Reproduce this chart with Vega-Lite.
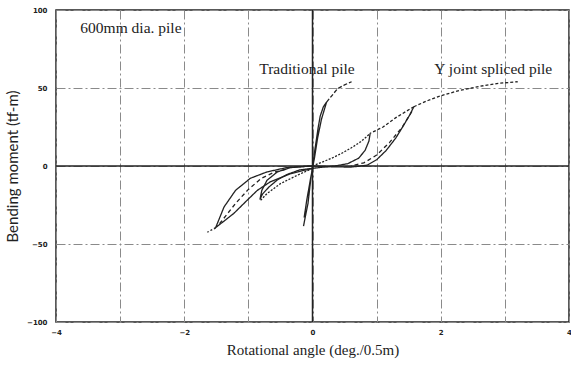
{
  "$schema": "https://vega.github.io/schema/vega-lite/v6.json",
  "width": 513,
  "height": 312,
  "autosize": {"type": "none"},
  "padding": {"left": 56, "top": 10, "right": 2, "bottom": 45},
  "background": "white",
  "config": {
    "view": {"stroke": "#222", "strokeWidth": 1.5},
    "axis": {"labelColor": "#222", "titleColor": "#222"}
  },
  "datasets": {
    "curves": [
      {"s": "Traditional", "i": 0, "x": -0.14, "y": -38.5},
      {"s": "Traditional", "i": 1, "x": -0.1, "y": -30},
      {"s": "Traditional", "i": 2, "x": -0.07, "y": -24},
      {"s": "Traditional", "i": 3, "x": -0.04, "y": -13},
      {"s": "Traditional", "i": 4, "x": 0, "y": 0},
      {"s": "Traditional", "i": 5, "x": 0.05, "y": 14},
      {"s": "Traditional", "i": 6, "x": 0.09, "y": 25},
      {"s": "Traditional", "i": 7, "x": 0.12, "y": 32},
      {"s": "Traditional", "i": 8, "x": 0.17, "y": 38},
      {"s": "Traditional", "i": 9, "x": 0.22, "y": 41},
      {"s": "Traditional", "i": 10, "x": 0.14, "y": 30},
      {"s": "Traditional", "i": 11, "x": 0.08, "y": 18},
      {"s": "Traditional", "i": 12, "x": 0.03, "y": 5},
      {"s": "Traditional", "i": 13, "x": -0.03, "y": -8},
      {"s": "Traditional", "i": 14, "x": -0.09, "y": -22},
      {"s": "Traditional", "i": 15, "x": -0.13, "y": -33},
      {"s": "Traditional top", "i": 0, "x": 0.22, "y": 41},
      {"s": "Traditional top", "i": 1, "x": 0.3, "y": 45},
      {"s": "Traditional top", "i": 2, "x": 0.39, "y": 49.5},
      {"s": "Traditional top", "i": 3, "x": 0.5, "y": 52},
      {"s": "Traditional top", "i": 4, "x": 0.61, "y": 54},
      {"s": "Y small loop", "i": 0, "x": 0.9, "y": 21},
      {"s": "Y small loop", "i": 1, "x": 0.88, "y": 16},
      {"s": "Y small loop", "i": 2, "x": 0.82, "y": 10},
      {"s": "Y small loop", "i": 3, "x": 0.72, "y": 5},
      {"s": "Y small loop", "i": 4, "x": 0.55, "y": 1.5},
      {"s": "Y small loop", "i": 5, "x": 0.35, "y": 0},
      {"s": "Y small loop", "i": 6, "x": 0.15, "y": -0.8},
      {"s": "Y small loop", "i": 7, "x": 0, "y": -1.5},
      {"s": "Y small loop", "i": 8, "x": -0.2, "y": -2.5},
      {"s": "Y small loop", "i": 9, "x": -0.4, "y": -5.5},
      {"s": "Y small loop", "i": 10, "x": -0.55, "y": -9},
      {"s": "Y small loop", "i": 11, "x": -0.68, "y": -13.5},
      {"s": "Y small loop", "i": 12, "x": -0.78, "y": -18},
      {"s": "Y small loop", "i": 13, "x": -0.82, "y": -21.5},
      {"s": "Y small loop", "i": 14, "x": -0.79, "y": -15.6},
      {"s": "Y small loop", "i": 15, "x": -0.71, "y": -9.2},
      {"s": "Y small loop", "i": 16, "x": -0.55, "y": -3.8},
      {"s": "Y small loop", "i": 17, "x": -0.34, "y": -1},
      {"s": "Y small loop", "i": 18, "x": -0.1, "y": -0.2},
      {"s": "Y small loop", "i": 19, "x": 0, "y": 0},
      {"s": "Y small path +", "i": 0, "x": 0, "y": 0},
      {"s": "Y small path +", "i": 1, "x": 0.15, "y": 2.5},
      {"s": "Y small path +", "i": 2, "x": 0.3, "y": 5},
      {"s": "Y small path +", "i": 3, "x": 0.45, "y": 8},
      {"s": "Y small path +", "i": 4, "x": 0.6, "y": 11.5},
      {"s": "Y small path +", "i": 5, "x": 0.75, "y": 15.5},
      {"s": "Y small path +", "i": 6, "x": 0.85, "y": 19},
      {"s": "Y small path +", "i": 7, "x": 0.9, "y": 21},
      {"s": "Y small path -", "i": 0, "x": 0, "y": -1.5},
      {"s": "Y small path -", "i": 1, "x": -0.24, "y": -6},
      {"s": "Y small path -", "i": 2, "x": -0.5, "y": -11.3},
      {"s": "Y small path -", "i": 3, "x": -0.71, "y": -17.7},
      {"s": "Y small path -", "i": 4, "x": -0.81, "y": -22},
      {"s": "Y large loop", "i": 0, "x": 0, "y": -1.5},
      {"s": "Y large loop", "i": 1, "x": -0.34, "y": -4.9},
      {"s": "Y large loop", "i": 2, "x": -0.66, "y": -10.2},
      {"s": "Y large loop", "i": 3, "x": -0.86, "y": -15.6},
      {"s": "Y large loop", "i": 4, "x": -1.02, "y": -22},
      {"s": "Y large loop", "i": 5, "x": -1.23, "y": -30.5},
      {"s": "Y large loop", "i": 6, "x": -1.51, "y": -39.5},
      {"s": "Y large loop", "i": 7, "x": -1.38, "y": -26.3},
      {"s": "Y large loop", "i": 8, "x": -1.2, "y": -15.6},
      {"s": "Y large loop", "i": 9, "x": -0.97, "y": -7.9},
      {"s": "Y large loop", "i": 10, "x": -0.71, "y": -3.8},
      {"s": "Y large loop", "i": 11, "x": -0.4, "y": -1},
      {"s": "Y large loop", "i": 12, "x": 0, "y": 0},
      {"s": "Y large loop", "i": 13, "x": 0.3, "y": -0.5},
      {"s": "Y large loop", "i": 14, "x": 0.6, "y": -0.7},
      {"s": "Y large loop", "i": 15, "x": 0.85, "y": 0.5},
      {"s": "Y large loop", "i": 16, "x": 1.0, "y": 4},
      {"s": "Y large loop", "i": 17, "x": 1.15, "y": 10},
      {"s": "Y large loop", "i": 18, "x": 1.3, "y": 18},
      {"s": "Y large loop", "i": 19, "x": 1.42, "y": 26},
      {"s": "Y large loop", "i": 20, "x": 1.52, "y": 33},
      {"s": "Y large loop", "i": 21, "x": 1.58, "y": 38},
      {"s": "Y large upper", "i": 0, "x": 1.58, "y": 38},
      {"s": "Y large upper", "i": 1, "x": 1.3, "y": 31},
      {"s": "Y large upper", "i": 2, "x": 1.1, "y": 25},
      {"s": "Y large upper", "i": 3, "x": 0.9, "y": 21},
      {"s": "Y inner +", "i": 0, "x": 1.55, "y": 35},
      {"s": "Y inner +", "i": 1, "x": 1.4, "y": 25},
      {"s": "Y inner +", "i": 2, "x": 1.2, "y": 15},
      {"s": "Y inner +", "i": 3, "x": 1.0, "y": 7},
      {"s": "Y inner +", "i": 4, "x": 0.8, "y": 2},
      {"s": "Y inner +", "i": 5, "x": 0.6, "y": 0},
      {"s": "Y inner -", "i": 0, "x": -1.45, "y": -37},
      {"s": "Y inner -", "i": 1, "x": -1.2, "y": -24},
      {"s": "Y inner -", "i": 2, "x": -1.0, "y": -15},
      {"s": "Y inner -", "i": 3, "x": -0.8, "y": -8},
      {"s": "Y inner -", "i": 4, "x": -0.6, "y": -4},
      {"s": "Y inner -", "i": 5, "x": -0.4, "y": -2},
      {"s": "Y envelope +", "i": 0, "x": 1.58, "y": 38},
      {"s": "Y envelope +", "i": 1, "x": 1.8, "y": 42},
      {"s": "Y envelope +", "i": 2, "x": 2.0, "y": 45},
      {"s": "Y envelope +", "i": 3, "x": 2.3, "y": 48.5},
      {"s": "Y envelope +", "i": 4, "x": 2.6, "y": 51},
      {"s": "Y envelope +", "i": 5, "x": 2.9, "y": 53},
      {"s": "Y envelope +", "i": 6, "x": 3.2, "y": 54},
      {"s": "Y envelope -", "i": 0, "x": -1.51, "y": -39.5},
      {"s": "Y envelope -", "i": 1, "x": -1.64, "y": -42.5}
    ],
    "labels": [
      {"t": "600mm dia. pile", "x": -3.62, "y": 88.5},
      {"t": "Traditional pile", "x": -0.83, "y": 62.5},
      {"t": "Y joint spliced pile", "x": 1.9, "y": 62.5}
    ],
    "zero": [{"z": 0}]
  },
  "layer": [
    {
      "data": {"name": "zero"},
      "mark": {"type": "rule", "color": "#222", "strokeWidth": 1.5},
      "encoding": {
        "x": {"field": "z", "type": "quantitative", "scale": {"domain": [-4, 4], "nice": false, "zero": false},
          "axis": {
            "values": [-4, -3, -2, -1, 0, 1, 2, 3, 4],
            "format": "d",
            "labelExpr": "datum.value % 2 === 0 ? datum.label : ''",
            "ticks": false, "domain": false,
            "grid": true, "gridDash": [9, 3, 2, 3], "gridColor": "#8a8a8a", "gridWidth": 1,
            "labelFont": "DejaVu Sans", "labelFontWeight": "bold", "labelFontSize": 7, "labelPadding": 6,
            "labelBound": false, "labelFlush": false,
            "title": "Rotational angle (deg./0.5m)",
            "titleFont": "Liberation Serif", "titleFontSize": 15, "titleFontWeight": "normal", "titlePadding": 7
          }
        }
      }
    },
    {
      "data": {"name": "zero"},
      "mark": {"type": "rule", "color": "#222", "strokeWidth": 1.5},
      "encoding": {
        "y": {"field": "z", "type": "quantitative", "scale": {"domain": [-100, 100], "nice": false, "zero": false},
          "axis": {
            "values": [-100, -75, -50, -25, 0, 25, 50, 75, 100],
            "format": "d",
            "labelExpr": "datum.value % 50 === 0 ? datum.label : ''",
            "ticks": false, "domain": false,
            "grid": true, "gridDash": [9, 3, 2, 3], "gridColor": "#8a8a8a", "gridWidth": 1,
            "labelFont": "DejaVu Sans", "labelFontWeight": "bold", "labelFontSize": 7, "labelPadding": 9,
            "labelBound": false, "labelFlush": false,
            "title": "Bending moment (tf-m)",
            "titleFont": "Lato", "titleFontSize": 15, "titleFontWeight": "normal", "titlePadding": 6
          }
        }
      }
    },
    {
      "data": {"name": "curves"},
      "mark": {"type": "line", "color": "#222", "strokeWidth": 1.3, "interpolate": "linear"},
      "encoding": {
        "x": {"field": "x", "type": "quantitative"},
        "y": {"field": "y", "type": "quantitative"},
        "detail": {"field": "s"},
        "order": {"field": "i", "type": "quantitative"},
        "strokeDash": {
          "field": "s", "type": "nominal", "legend": null,
          "scale": {
            "domain": ["Traditional", "Traditional top", "Y small loop", "Y small path +", "Y small path -", "Y large loop", "Y large upper", "Y inner +", "Y inner -", "Y envelope +", "Y envelope -"],
            "range": [[1, 0], [4, 2], [1, 0], [2, 1.5], [2, 1.5], [1, 0], [3, 2], [4, 3], [4, 3], [3, 2], [2, 2]]
          }
        }
      }
    },
    {
      "data": {"name": "labels"},
      "mark": {"type": "text", "align": "left", "baseline": "middle", "font": "Liberation Serif", "fontSize": 15.5, "color": "#222"},
      "encoding": {
        "x": {"field": "x", "type": "quantitative"},
        "y": {"field": "y", "type": "quantitative"},
        "text": {"field": "t"}
      }
    }
  ]
}
